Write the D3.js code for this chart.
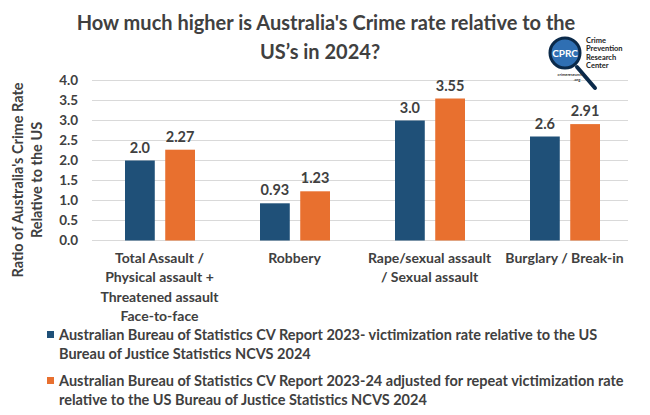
<!DOCTYPE html>
<html>
<head>
<meta charset="utf-8">
<script src="https://cdn.jsdelivr.net/npm/d3@7"></script>
<style>
  body { margin: 0; background: #fff; }
  svg text { font-family: Lato, "Open Sans", sans-serif; font-weight: bold; fill: #404040; }
</style>
</head>
<body>
<div id="chart-area"></div>
<script>
// data
var categories = ["assault", "robbery", "rape", "burglary"];
var categoryLabels = [
  ["Total Assault /", "Physical assault +", "Threatened assault", "Face-to-face"],
  ["Robbery"],
  ["Rape/sexual assault", "/ Sexual assault"],
  ["Burglary / Break-in"]
];
var seriesNames = ["cv2023", "cv2324"];
var cv2023 = [2.0, 0.93, 3.0, 2.6];
var cv2324 = [2.27, 1.23, 3.55, 2.91];
var valueLabels2023 = ["2.0", "0.93", "3.0", "2.6"];
var valueLabels2324 = ["2.27", "1.23", "3.55", "2.91"];
var yTicks = [0, 0.5, 1, 1.5, 2, 2.5, 3, 3.5, 4];
var legendLabels = [
  ["Australian Bureau of Statistics CV Report 2023- victimization rate relative to the US", "Bureau of Justice Statistics NCVS 2024"],
  ["Australian Bureau of Statistics CV Report 2023-24 adjusted for repeat victimization rate", "relative to the US Bureau of Justice Statistics NCVS 2024"]
];
var colors = ["#1f5078", "#e8702f"];

// setting up SVG drawing area
var W = 650, H = 415;
var margin = { top: 80.5, left: 92, right: 18 };
var plotH = 160;

var svg = d3.select("#chart-area").append("svg")
  .attr("width", W).attr("height", H);

// title
var title = svg.append("text").attr("text-anchor", "middle").style("font-size", "20px");
title.append("tspan").attr("x", 326).attr("y", 30).text("How much higher is Australia's Crime rate relative to the");
title.append("tspan").attr("x", 320).attr("y", 59).text("US\u2019s in 2024?");

var g = svg.append("g").attr("transform", `translate(${margin.left}, ${margin.top})`);

// scales
var x = d3.scaleBand().domain(categories).range([0, 540]);
var xs = d3.scaleBand().domain(seriesNames).range([33, 103]).paddingInner(0.26);
var y = d3.scaleLinear().domain([0, 4]).range([plotH, 0]);

// grid lines
g.selectAll(".grid").data(yTicks).join("line")
  .attr("class", "grid")
  .attr("x1", 0).attr("x2", 536)
  .attr("y1", d => y(d)).attr("y2", d => y(d))
  .attr("stroke", "#d9d9d9").attr("stroke-width", 1);

// y axis
var yAxis = d3.axisLeft(y).tickValues(yTicks).tickFormat(d3.format(".1f")).tickSize(0).tickPadding(14);
var ya = g.append("g").call(yAxis);
ya.select(".domain").remove();
ya.selectAll("text").style("font-size", "13.5px").style("font-family", "Lato, sans-serif").attr("fill", "#404040");

// y axis title
var yt = svg.append("text").attr("text-anchor", "middle").style("font-size", "14.5px")
  .attr("transform", "translate(23, 180) rotate(-90)");
yt.append("tspan").attr("x", 0).attr("y", 0).text("Ratio of Australia's Crime Rate");
yt.append("tspan").attr("x", 0).attr("y", 19).text("Relative to the US");

// bars
var rows = categories.map((c, i) => ({ cat: c, vals: [
  { s: "cv2023", v: cv2023[i], label: valueLabels2023[i], color: colors[0] },
  { s: "cv2324", v: cv2324[i], label: valueLabels2324[i], color: colors[1] }
]}));

var groups = g.selectAll(".cat").data(rows).join("g")
  .attr("class", "cat")
  .attr("transform", d => `translate(${x(d.cat)}, 0)`);

groups.selectAll("rect").data(d => d.vals).join("rect")
  .attr("x", d => xs(d.s))
  .attr("y", d => y(d.v))
  .attr("width", xs.bandwidth())
  .attr("height", d => plotH - y(d.v))
  .attr("fill", d => d.color);

groups.selectAll(".val").data(d => d.vals).join("text")
  .attr("class", "val")
  .attr("text-anchor", "middle")
  .attr("x", d => xs(d.s) + xs.bandwidth() / 2)
  .attr("y", d => y(d.v) - 8)
  .style("font-size", "14.5px")
  .text(d => d.label);

// category labels
groups.each(function (d, i) {
  var t = d3.select(this).append("text").attr("text-anchor", "middle").style("font-size", "14px");
  categoryLabels[i].forEach((line, j) => {
    t.append("tspan").attr("x", x.bandwidth() / 2).attr("y", plotH + 22 + j * 19.5).text(line);
  });
});

// legend
var legend = svg.append("g");
legendLabels.forEach((lines, i) => {
  var ly = 335 + i * 46;
  legend.append("rect").attr("x", 47).attr("y", ly - 4).attr("width", 7).attr("height", 7).attr("fill", colors[i]);
  var t = legend.append("text").style("font-size", "14.5px");
  lines.forEach((line, j) => {
    t.append("tspan").attr("x", 59).attr("y", ly + 5 + j * 18.5).text(line);
  });
});

// logo
var logo = svg.append("g").attr("transform", "translate(565, 53)");
logo.append("line").attr("x1", 12).attr("y1", 14).attr("x2", 30).attr("y2", 35)
  .attr("stroke", "#0b2a4a").attr("stroke-width", 4).attr("stroke-linecap", "round");
logo.append("circle").attr("r", 15).attr("fill", "#2f6fb3").attr("stroke", "#0b2a4a").attr("stroke-width", 3);
logo.append("text").attr("text-anchor", "middle").attr("y", 4).style("font-size", "10px").style("fill", "#fff").text("CPRC");
var lt = logo.append("text").style("font-size", "7.5px").style("fill", "#222");
["Crime", "Prevention", "Research", "Center"].forEach((s, j) => {
  lt.append("tspan").attr("x", 21).attr("y", -10 + j * 8.3).text(s);
});
logo.append("text").attr("text-anchor", "middle").attr("x", 5).attr("y", 23).style("font-size", "4px").style("fill", "#333").text("crimeresearch");
logo.append("text").attr("text-anchor", "middle").attr("x", 12).attr("y", 28).style("font-size", "4px").style("fill", "#333").text(".org");
</script>
</body>
</html>
